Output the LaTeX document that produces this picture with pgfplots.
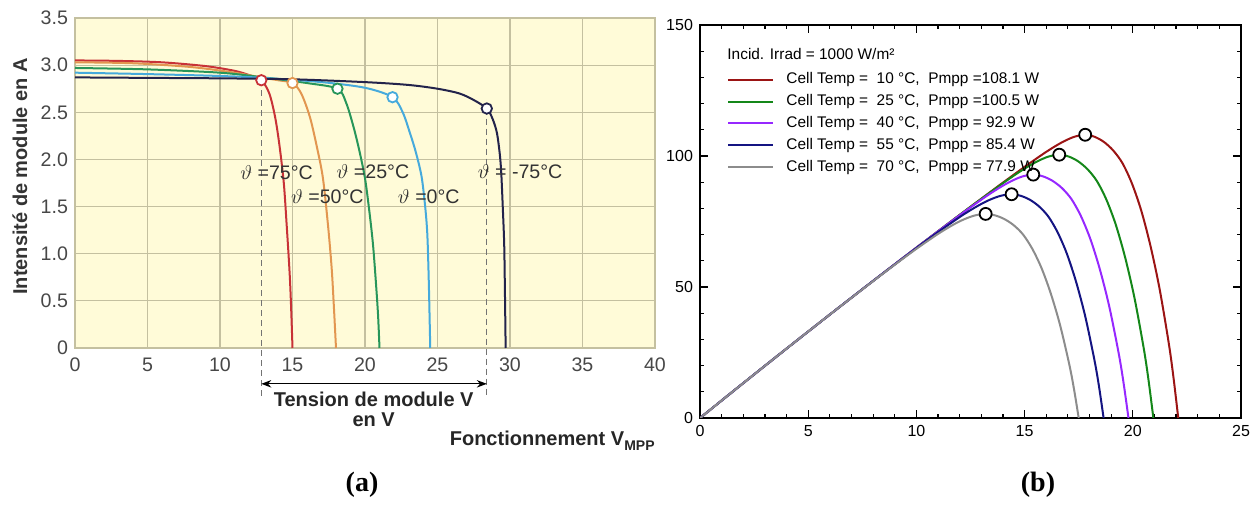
\documentclass[border=0pt]{standalone}
\usepackage{fontspec}
\setmainfont{Liberation Sans}
\newfontfamily\serifb{Liberation Serif}
\usepackage{pgfplots}
\pgfplotsset{compat=1.18}
\usetikzlibrary{arrows.meta}

\definecolor{cream}{RGB}{255,251,216}
\definecolor{gridc}{RGB}{196,192,160}
\definecolor{cA}{RGB}{200,50,55}
\definecolor{cB}{RGB}{226,150,80}
\definecolor{cC}{RGB}{40,150,90}
\definecolor{cD}{RGB}{70,170,220}
\definecolor{cE}{RGB}{35,35,75}
\definecolor{rA}{RGB}{155,20,20}
\definecolor{rB}{RGB}{20,135,25}
\definecolor{rC}{RGB}{150,40,255}
\definecolor{rD}{RGB}{20,20,130}
\definecolor{rE}{RGB}{140,140,140}

\begin{document}
\begin{tikzpicture}
\useasboundingbox (0,0) rectangle (626.5pt,252pt);
% ---------------- (a) ----------------
\begin{axis}[
  at={(37.5pt,78pt)}, anchor=south west, scale only axis,
  width=290pt, height=165pt,
  xmin=0, xmax=40, ymin=0, ymax=3.5,
  xtick={0,5,...,40}, ytick={0,0.5,1,1.5,2,2.5,3,3.5},
  yticklabels={0,0.5,1.0,1.5,2.0,2.5,3.0,3.5},
  grid=major, major grid style={gridc, line width=0.6pt},
  axis line style={gridc, line width=0.6pt},
  major tick length=0pt,
  tick label style={font=\fontsize{9.8}{11}\selectfont, text=black!72},
  xticklabel style={yshift=-1.5pt},
  /pgf/number format/assume math mode=true,
  axis background/.style={fill=cream},
  ylabel={Intensité de module en A},
  ylabel style={font=\bfseries\fontsize{10}{12}\selectfont, text=black!80,
     at={(axis description cs:-0.095,0.52)}, anchor=center},
  clip=false,
]
\addplot[cA, line width=1pt, smooth, tension=0.5] coordinates {
(0,3.05)(3,3.045)(6,3.03)(9,2.99)(11,2.94)(12,2.895)(12.85,2.84)(13.4,2.7)(13.8,2.45)(14.1,2.15)(14.4,1.75)(14.6,1.3)(14.8,0.8)(14.9,0.45)(15.0,0)};
\addplot[cB, line width=1pt, smooth, tension=0.5] coordinates {
(0,3.03)(4,3.02)(8,2.98)(11,2.92)(13,2.865)(14,2.84)(15,2.81)(15.6,2.7)(16.2,2.45)(16.7,2.12)(17.1,1.8)(17.45,1.3)(17.7,0.85)(17.85,0.45)(18.0,0)};
\addplot[cC, line width=1pt, smooth, tension=0.5] coordinates {
(0,2.97)(5,2.955)(10,2.92)(13,2.87)(16,2.81)(18.1,2.75)(18.7,2.6)(19.2,2.35)(19.6,2.1)(20.0,1.8)(20.3,1.45)(20.55,1.1)(20.75,0.7)(20.9,0.35)(21.0,0)};
\addplot[cD, line width=1pt, smooth, tension=0.5] coordinates {
(0,2.92)(5,2.905)(10,2.885)(13,2.865)(17,2.82)(20,2.76)(21.9,2.66)(22.6,2.5)(23.1,2.28)(23.5,2.08)(23.9,1.82)(24.15,1.5)(24.3,1.2)(24.4,0.7)(24.5,0)};
\addplot[cE, line width=1pt, smooth, tension=0.5] coordinates {
(0,2.87)(5,2.865)(10,2.86)(15,2.85)(20,2.82)(23,2.79)(25,2.75)(26.5,2.7)(27.5,2.63)(28.4,2.54)(28.8,2.43)(29.1,2.28)(29.3,2.05)(29.4,1.85)(29.5,1.5)(29.6,1.1)(29.65,0.6)(29.7,0)};
\draw[black!55, densely dashed, line width=0.6pt] (axis cs:12.85,2.84) -- (axis cs:12.85,-0.52);
\draw[black!55, densely dashed, line width=0.6pt] (axis cs:28.4,2.54) -- (axis cs:28.4,-0.52);
\addplot[only marks, mark=*, mark size=2.6pt, mark options={draw=cA, fill=white, line width=0.9pt}] coordinates {(12.85,2.84)};
\addplot[only marks, mark=*, mark size=2.6pt, mark options={draw=cB, fill=white, line width=0.9pt}] coordinates {(15.0,2.81)};
\addplot[only marks, mark=*, mark size=2.6pt, mark options={draw=cC, fill=white, line width=0.9pt}] coordinates {(18.1,2.75)};
\addplot[only marks, mark=*, mark size=2.6pt, mark options={draw=cD, fill=white, line width=0.9pt}] coordinates {(21.9,2.66)};
\addplot[only marks, mark=*, mark size=2.6pt, mark options={draw=cE, fill=white, line width=0.9pt}] coordinates {(28.4,2.54)};
\begin{scope}[every node/.style={font=\fontsize{9.8}{11}\selectfont, text=black!80}]
\node at (axis cs:13.9,1.86) {$\vartheta$ =75°C};
\node at (axis cs:17.4,1.61) {$\vartheta$ =50°C};
\node at (axis cs:20.55,1.87) {$\vartheta$ =25°C};
\node at (axis cs:24.4,1.60) {$\vartheta$ =0°C};
\node at (axis cs:30.7,1.87) {$\vartheta$ = -75°C};
\end{scope}
\draw[{Stealth[length=5pt]}-{Stealth[length=5pt]}, line width=0.6pt] (axis cs:12.85,-0.38) -- (axis cs:28.4,-0.38);
\node[font=\bfseries\fontsize{10}{12}\selectfont, text=black!85] at (axis cs:20.6,-0.54) {Tension de module V};
\node[font=\bfseries\fontsize{10}{12}\selectfont, text=black!85] at (axis cs:20.6,-0.76) {en V};
\node[anchor=east, font=\bfseries\fontsize{10}{12}\selectfont, text=black!85, inner sep=0pt] at (axis cs:40,-0.98) {Fonctionnement V\raisebox{-0.45ex}{\fontsize{7}{8}\selectfont MPP}};
\end{axis}
\node[font=\serifb\bfseries\fontsize{14}{16}\selectfont] at (181pt,9.5pt) {(a)};
% ---------------- (b) ----------------
\begin{axis}[
  at={(350pt,43pt)}, anchor=south west, scale only axis,
  width=270.5pt, height=196.5pt,
  xmin=0, xmax=25, ymin=0, ymax=150,
  xtick={0,5,...,25}, ytick={0,50,100,150},
  minor x tick num=4, minor y tick num=4,
  tick align=inside, major tick length=4pt, minor tick length=2.2pt,
  tick style={black, line width=0.6pt},
  axis line style={black, line width=1pt},
  tick label style={font=\fontsize{8}{10}\selectfont},
  /pgf/number format/assume math mode=true,
  legend style={at={(axis description cs:0.05,0.89)}, anchor=north west, draw=none, fill=none,
     font=\fontsize{7.7}{9}\selectfont, row sep=-0.15pt, inner sep=0pt},
  legend cell align=left,
  legend image code/.code={\draw[#1, line width=1pt] (0pt,0pt) -- (22.5pt,0pt);},
]
\addplot[rA, line width=1pt, smooth, tension=0.5] coordinates {
(0,0)(2,13.32)(4,26.48)(6,39.48)(8,52.32)(10,65)(12,77.52)(13,83.7)(14,89.84)(15,95.85)(15.8,100.47)(16.3,103.16)(16.8,105.54)(17.3,107.34)(17.8,108.1)(18.23,107.34)(18.66,105.4)(19.09,102.15)(19.52,97.29)(19.95,89.72)(20.38,79.45)(20.81,65.94)(21.24,49.19)(21.67,28.11)(21.885,15.13)(22.1,0)};
\addlegendentry{\hspace*{4pt}Cell Temp =~~10 °C,~~Pmpp =108.1 W}
\addplot[rB, line width=1pt, smooth, tension=0.5] coordinates {
(0,0)(2,13.32)(4,26.48)(6,39.48)(8,52.32)(10,65)(12,77.52)(13,83.64)(14,89.62)(14.6,93.05)(15.1,95.69)(15.6,98.01)(16.1,99.77)(16.6,100.5)(17.035,99.8)(17.47,97.99)(17.905,94.97)(18.34,90.45)(18.775,83.42)(19.21,73.87)(19.645,61.31)(20.08,45.73)(20.515,26.13)(20.733,14.07)(20.95,0)};
\addlegendentry{\hspace*{4pt}Cell Temp =~~25 °C,~~Pmpp =100.5 W}
\addplot[rC, line width=1pt, smooth, tension=0.5] coordinates {
(0,0)(2,13.32)(4,26.48)(6,39.48)(8,52.32)(10,65)(12,77.39)(13,83.32)(13.4,85.58)(13.9,88.2)(14.4,90.48)(14.9,92.19)(15.4,92.9)(15.84,92.25)(16.28,90.58)(16.72,87.79)(17.16,83.61)(17.6,77.11)(18.04,68.28)(18.48,56.67)(18.92,42.27)(19.36,24.15)(19.58,13.01)(19.8,0)};
\addlegendentry{\hspace*{4pt}Cell Temp =~~40 °C,~~Pmpp = 92.9 W}
\addplot[rD, line width=1pt, smooth, tension=0.5] coordinates {
(0,0)(2,13.32)(4,26.48)(6,39.48)(8,52.32)(10,64.86)(11,70.94)(12,76.69)(12.4,78.82)(12.9,81.26)(13.4,83.33)(13.9,84.82)(14.4,85.4)(14.825,84.8)(15.25,83.27)(15.675,80.7)(16.1,76.86)(16.525,70.88)(16.95,62.77)(17.375,52.09)(17.8,38.86)(18.225,22.2)(18.44,11.96)(18.65,0)};
\addlegendentry{\hspace*{4pt}Cell Temp =~~55 °C,~~Pmpp = 85.4 W}
\addplot[rE, line width=1pt, smooth, tension=0.5] coordinates {
(0,0)(2,13.32)(4,26.48)(6,39.48)(8,52.25)(9,58.5)(10,64.57)(11,70.26)(11.7,73.76)(12.2,75.82)(12.7,77.31)(13.2,77.9)(13.63,77.35)(14.06,75.95)(14.49,73.62)(14.92,70.11)(15.35,64.66)(15.78,57.26)(16.21,47.52)(16.64,35.44)(17.07,20.25)(17.285,10.91)(17.5,0)};
\addlegendentry{\hspace*{4pt}Cell Temp =~~70 °C,~~Pmpp = 77.9 W}
\addplot[only marks, mark=*, mark size=3pt, mark options={draw=black, fill=white, line width=0.9pt}, forget plot] coordinates {
(17.8,108.1)(16.6,100.5)(15.4,92.9)(14.4,85.4)(13.2,77.9)};
\node[anchor=west, inner sep=0pt, font=\fontsize{7.7}{9}\selectfont] at (axis description cs:0.05,0.926) {Incid. Irrad = 1000 W/m²};
\end{axis}
\node[font=\serifb\bfseries\fontsize{14}{16}\selectfont] at (519pt,9.5pt) {(b)};
\end{tikzpicture}
\end{document}
